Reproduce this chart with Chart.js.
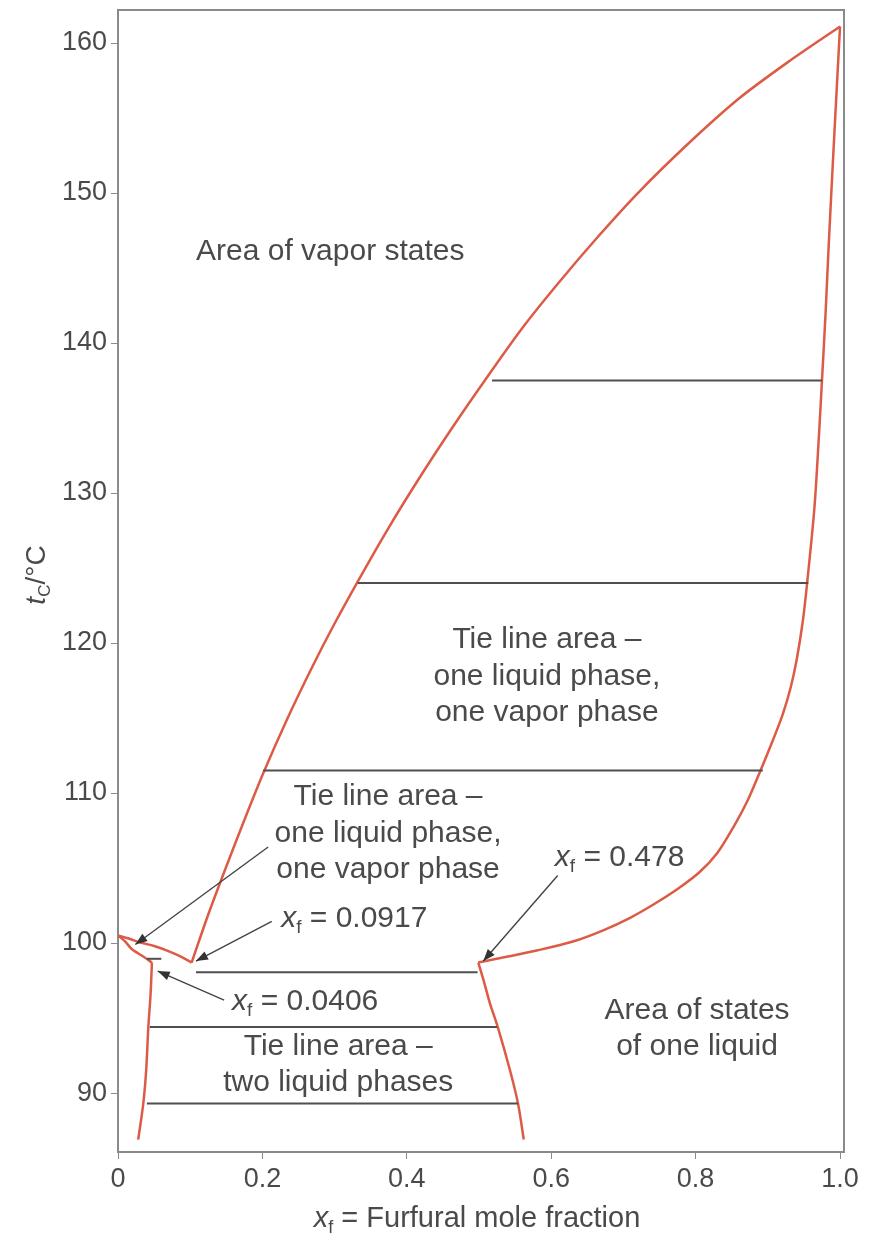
<!DOCTYPE html>
<html>
<head>
<meta charset="utf-8">
<script src="https://cdn.jsdelivr.net/npm/chart.js@4.4.1/dist/chart.umd.min.js"></script>
<style>
  html, body { margin: 0; padding: 0; background: #fff; }
  canvas { display: block; }
</style>
</head>
<body>
<canvas id="phaseChart" width="869" height="1239"></canvas>
<script>
// Axis ticks
const xTickValues = [0, 0.2, 0.4, 0.6, 0.8, 1.0];
const xTickLabels = ['0', '0.2', '0.4', '0.6', '0.8', '1.0'];
const yTickValues = [90, 100, 110, 120, 130, 140, 150, 160];

// Vapor (dew) curve, furfural side
const vaporX = [0.102, 0.125, 0.15, 0.175, 0.201, 0.235, 0.27, 0.30, 0.332, 0.375, 0.42, 0.465, 0.508, 0.56, 0.61, 0.665, 0.72, 0.79, 0.86, 0.93, 1.0];
const vaporT = [98.7, 101.9, 105.1, 108.2, 111.3, 115.0, 118.5, 121.3, 124.1, 127.7, 131.2, 134.5, 137.5, 141.0, 144.0, 147.1, 150.0, 153.3, 156.3, 158.8, 161.1];

// Liquid (bubble) curve, furfural side
const liquidX = [0.499, 0.54, 0.58, 0.63, 0.672, 0.71, 0.741, 0.775, 0.806, 0.83, 0.852, 0.872, 0.889, 0.906, 0.921, 0.932, 0.94, 0.948, 0.954, 0.9645, 0.971, 0.975, 0.98, 0.984, 0.991, 1.0];
const liquidT = [98.7, 99.1, 99.5, 100.1, 100.85, 101.7, 102.55, 103.6, 104.75, 106.0, 107.7, 109.5, 111.4, 113.4, 115.3, 117.1, 118.9, 121.3, 123.8, 129.0, 134.0, 137.5, 142.0, 146.2, 152.9, 161.1];

// Water side: small dew and bubble curves
const waterVaporX = [0.0, 0.015, 0.03, 0.05, 0.068, 0.085, 0.102];
const waterVaporT = [100.5, 100.3, 100.05, 99.8, 99.5, 99.15, 98.7];
const waterLiquidX = [0.0, 0.01, 0.019, 0.035, 0.047];
const waterLiquidT = [100.5, 100.1, 99.6, 99.1, 98.7];

// Liquid-liquid solubility curves
const waterSolX = [0.047, 0.045, 0.042, 0.039, 0.035, 0.028];
const waterSolT = [98.7, 96.5, 94.4, 91.5, 89.3, 86.9];
const furfSolX = [0.499, 0.507, 0.515, 0.526, 0.543, 0.554, 0.562];
const furfSolT = [98.7, 97.4, 96.0, 94.4, 91.5, 89.3, 86.9];

// Tie lines: temperature, left end, right end
const tieT = [137.5, 124.0, 111.5, 98.95, 98.05, 94.4, 89.3];
const tieFrom = [0.518, 0.332, 0.201, 0.040, 0.108, 0.044, 0.040];
const tieTo = [0.975, 0.956, 0.893, 0.060, 0.498, 0.525, 0.554];

const red = '#dd5b46';
const tieColor = '#4f4f4f';
const textColor = '#4a4a4a';
const fontFamily = '"Liberation Sans", Arial, Helvetica, sans-serif';
const tickSize = 27;
const noteSize = 30;

function pts(xs, ts) {
    return xs.map((v, i) => ({ x: v, y: ts[i] }));
}

function curve(xs, ts) {
    return {
        data: pts(xs, ts),
        showLine: true,
        borderColor: red,
        borderWidth: 2.5,
        pointRadius: 0,
        tension: 0.3,
        fill: false
    };
}

const datasets = [];
tieT.forEach((t, i) => {
    datasets.push({
        data: [{ x: tieFrom[i], y: t }, { x: tieTo[i], y: t }],
        showLine: true,
        borderColor: tieColor,
        borderWidth: 2,
        pointRadius: 0
    });
});
datasets.push(curve(vaporX, vaporT));
datasets.push(curve(liquidX, liquidT));
datasets.push(curve(waterVaporX, waterVaporT));
datasets.push(curve(waterLiquidX, waterLiquidT));
datasets.push(curve(waterSolX, waterSolT));
datasets.push(curve(furfSolX, furfSolT));

// Annotation texts (data coords: x fraction, temperature)
const notes = [
    { x: 0.294, t: 146.1, lines: ['Area of vapor states'] },
    { x: 0.594, t: 120.2, lines: ['Tie line area \u2013', 'one liquid phase,', 'one vapor phase'] },
    { x: 0.374, t: 109.73, lines: ['Tie line area \u2013', 'one liquid phase,', 'one vapor phase'] },
    { x: 0.305, t: 93.1, lines: ['Tie line area \u2013', 'two liquid phases'] },
    { x: 0.802, t: 95.5, lines: ['Area of states', 'of one liquid'] }
];
const xfNotes = [
    { x: 0.605, t: 105.7, value: '0.478' },
    { x: 0.226, t: 101.6, value: '0.0917' },
    { x: 0.158, t: 96.1, value: '0.0406' }
];
const arrows = [
    { x1: 0.208, t1: 106.4, x2: 0.024, t2: 99.9 },
    { x1: 0.213, t1: 101.45, x2: 0.108, t2: 98.8 },
    { x1: 0.147, t1: 96.2, x2: 0.055, t2: 98.13 },
    { x1: 0.609, t1: 104.5, x2: 0.506, t2: 98.8 }
];

function partFont(p, size) {
    const s = p.sub ? Math.round(size * 0.62) : size;
    return (p.italic ? 'italic ' : '') + s + 'px ' + fontFamily;
}

function drawRich(ctx, parts, x, y, align, size) {
    let w = 0;
    parts.forEach(p => { ctx.font = partFont(p, size); w += ctx.measureText(p.t).width; });
    let cx = align === 'center' ? x - w / 2 : x;
    ctx.textAlign = 'left';
    parts.forEach(p => {
        ctx.font = partFont(p, size);
        ctx.fillText(p.t, cx, y + (p.sub ? size * 0.3 : 0));
        cx += ctx.measureText(p.t).width;
    });
}

const notesPlugin = {
    id: 'phaseNotes',
    afterDatasetsDraw(chart) {
        const { ctx, chartArea, scales } = chart;
        const sx = scales.x, sy = scales.y;
        ctx.save();
        // top and right frame
        ctx.strokeStyle = '#8a8a8a';
        ctx.lineWidth = 2;
        ctx.beginPath();
        ctx.moveTo(chartArea.left, chartArea.top);
        ctx.lineTo(chartArea.right, chartArea.top);
        ctx.lineTo(chartArea.right, chartArea.bottom);
        ctx.stroke();

        ctx.fillStyle = textColor;
        ctx.textBaseline = 'middle';
        ctx.textAlign = 'center';
        ctx.font = noteSize + 'px ' + fontFamily;
        notes.forEach(n => {
            const px = sx.getPixelForValue(n.x);
            const py = sy.getPixelForValue(n.t);
            n.lines.forEach((line, i) => ctx.fillText(line, px, py + i * 36.5));
        });

        xfNotes.forEach(n => {
            drawRich(ctx, [
                { t: 'x', italic: true },
                { t: 'f', sub: true },
                { t: ' = ' + n.value }
            ], sx.getPixelForValue(n.x), sy.getPixelForValue(n.t), 'left', noteSize);
        });

        // pointer arrows
        ctx.strokeStyle = '#444';
        ctx.fillStyle = '#333';
        ctx.lineWidth = 1.4;
        arrows.forEach(a => {
            const x1 = sx.getPixelForValue(a.x1), y1 = sy.getPixelForValue(a.t1);
            const x2 = sx.getPixelForValue(a.x2), y2 = sy.getPixelForValue(a.t2);
            const ang = Math.atan2(y2 - y1, x2 - x1);
            ctx.beginPath();
            ctx.moveTo(x1, y1);
            ctx.lineTo(x2, y2);
            ctx.stroke();
            const len = 12, half = 4.5;
            ctx.beginPath();
            ctx.moveTo(x2, y2);
            ctx.lineTo(x2 - len * Math.cos(ang) + half * Math.sin(ang), y2 - len * Math.sin(ang) - half * Math.cos(ang));
            ctx.lineTo(x2 - len * Math.cos(ang) - half * Math.sin(ang), y2 - len * Math.sin(ang) + half * Math.cos(ang));
            ctx.closePath();
            ctx.fill();
        });

        // axis titles
        ctx.fillStyle = textColor;
        drawRich(ctx, [
            { t: 'x', italic: true },
            { t: 'f', sub: true },
            { t: ' = Furfural mole fraction' }
        ], 477, 1219, 'center', 29);

        ctx.translate(37, 575);
        ctx.rotate(-Math.PI / 2);
        drawRich(ctx, [
            { t: 't', italic: true },
            { t: 'C', sub: true },
            { t: '/\u00b0C' }
        ], 0, 0, 'center', 28);
        ctx.restore();
    }
};

function noEdgePadding(s) {
    s.paddingTop = 0;
    s.paddingBottom = 0;
    s.paddingLeft = 0;
    s.paddingRight = 0;
}

new Chart(document.getElementById('phaseChart'), {
    type: 'scatter',
    data: { datasets: datasets },
    options: {
        responsive: false,
        animation: false,
        layout: { padding: { left: 0, right: 25, top: 10, bottom: 0 } },
        plugins: {
            legend: { display: false },
            tooltip: { enabled: false }
        },
        scales: {
            x: {
                type: 'linear',
                min: 0,
                max: 1.0055,
                afterBuildTicks: s => { s.ticks = xTickValues.map(v => ({ value: v })); },
                afterFit: s => { s.height = 87; noEdgePadding(s); },
                border: { color: '#8a8a8a', width: 2 },
                grid: { drawOnChartArea: false, drawTicks: true, tickLength: 7, color: '#8a8a8a' },
                ticks: {
                    color: textColor,
                    padding: 4,
                    maxRotation: 0,
                    font: { family: fontFamily, size: tickSize },
                    callback: (v, i) => xTickLabels[i]
                }
            },
            y: {
                type: 'linear',
                min: 86.07,
                max: 162.2,
                afterBuildTicks: s => { s.ticks = yTickValues.map(v => ({ value: v })); },
                afterFit: s => { s.width = 118; noEdgePadding(s); },
                border: { color: '#8a8a8a', width: 2 },
                grid: { drawOnChartArea: false, drawTicks: true, tickLength: 7, color: '#8a8a8a' },
                ticks: {
                    color: textColor,
                    padding: 4,
                    font: { family: fontFamily, size: tickSize },
                    callback: v => String(v)
                }
            }
        }
    },
    plugins: [notesPlugin]
});
</script>
</body>
</html>
